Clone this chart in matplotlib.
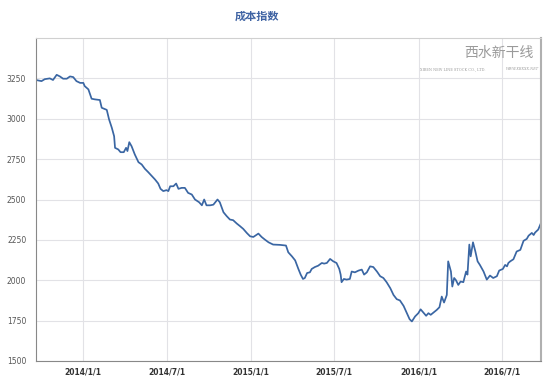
import matplotlib
matplotlib.use("Agg")
import matplotlib.pyplot as plt
import numpy as np
import pandas as pd

plt.rcParams['font.family'] = ['Noto Sans CJK SC', 'DejaVu Sans']

# days counted from 2014-01-01
day_offset = [-103, -91, -84, -73, -66, -58, -51, -44, -36, -29, -22, -15, -7, 0, 3, 11, 18, 25, 36, 40,
              51, 56, 62, 67, 69, 76, 81, 88, 93, 96, 100, 105, 112, 120, 127, 134, 141, 149, 156, 163,
              168, 174, 181, 185, 189, 196, 202, 207, 214, 221, 228, 236, 243, 252, 258, 263, 268, 276, 283, 292,
              297, 305, 312, 319, 326, 334, 341, 348, 356, 363, 370, 381, 388, 395, 403, 413, 428, 441, 446, 454,
              461, 468, 473, 478, 482, 487, 493, 497, 504, 511, 519, 524, 530, 537, 544, 551, 557, 560, 562, 567,
              573, 580, 584, 591, 599, 606, 611, 617, 624, 631, 639, 646, 653, 660, 668, 675, 682, 689, 697, 704,
              710, 715, 722, 729, 734, 740, 746, 751, 756, 762, 769, 775, 780, 785, 791, 794, 800, 803, 807, 811,
              816, 821, 827, 833, 836, 840, 843, 848, 853, 858, 863, 871, 878, 885, 892, 900, 905, 913, 918, 922,
              925, 929, 936, 943, 951, 958, 965, 969, 976, 980, 983, 990, 996]
cost_index = [3240, 3233, 3245, 3250, 3240, 3272, 3262, 3248, 3248, 3262, 3258, 3233, 3222, 3222, 3202, 3182, 3124, 3120, 3116, 3068,
              3055, 2996, 2944, 2892, 2820, 2810, 2793, 2793, 2820, 2800, 2855, 2830, 2779, 2731, 2717, 2690, 2670, 2645, 2624, 2599,
              2566, 2552, 2558, 2552, 2582, 2582, 2599, 2566, 2572, 2572, 2541, 2531, 2500, 2483, 2464, 2500, 2464, 2464, 2468, 2500,
              2483, 2421, 2397, 2376, 2372, 2351, 2335, 2318, 2292, 2272, 2268, 2289, 2268, 2252, 2235, 2221, 2219, 2215, 2173, 2148,
              2123, 2070, 2035, 2008, 2014, 2045, 2049, 2070, 2082, 2090, 2107, 2103, 2107, 2132, 2117, 2107, 2070, 2035, 1988, 2008,
              2004, 2008, 2054, 2049, 2060, 2066, 2035, 2049, 2086, 2082, 2054, 2025, 2014, 1988, 1951, 1909, 1883, 1875, 1841, 1796,
              1759, 1745, 1776, 1796, 1820, 1800, 1780, 1796, 1786, 1800, 1816, 1833, 1899, 1862, 1909, 2117, 2054, 1961, 2014, 2000,
              1971, 1992, 1988, 2054, 2035, 2221, 2148, 2235, 2180, 2117, 2095, 2054, 2004, 2029, 2014, 2025, 2060, 2070, 2095, 2086,
              2107, 2117, 2130, 2178, 2188, 2244, 2256, 2276, 2293, 2280, 2295, 2314, 2355]

tick_dates = ['2014-01-01', '2014-07-01', '2015-01-01', '2015-07-01', '2016-01-01', '2016-07-01']
tick_labels = ['2014/1/1', '2014/7/1', '2015/1/1', '2015/7/1', '2016/1/1', '2016/7/1']
y_ticks = [1500, 1750, 2000, 2250, 2500, 2750, 3000, 3250]

dates = pd.Timestamp('2014-01-01') + pd.to_timedelta(day_offset, unit='D')

fig = plt.figure(figsize=(5.57, 3.83), dpi=100)
ax = fig.add_axes([36 / 557, 22 / 383, 505 / 557, 323 / 383])

ax.plot(dates, cost_index, color='#3a66a3', lw=1.25)

ax.set_xlim(dates[0], dates[-1])
ax.set_ylim(1500, 3500)
ax.set_yticks(y_ticks)
ax.set_xticks(pd.to_datetime(tick_dates))
ax.set_xticklabels(tick_labels, fontsize=5.5, fontweight='bold', color='#333333', family='DejaVu Sans')
ax.tick_params(axis='y', labelsize=5.5, colors='#555555', length=0, pad=7)
ax.tick_params(axis='x', length=0, pad=5)
for lab in ax.get_yticklabels():
    lab.set_family('DejaVu Sans')

ax.grid(True, color='#e2e2e6', lw=0.8)
ax.set_axisbelow(True)

ax.spines['left'].set_color('#888888')
ax.spines['bottom'].set_color('#888888')
ax.spines['top'].set_color('#d0d0d0')
ax.spines['right'].set_color('#b0b0b0')
ax.spines['right'].set_linewidth(1.5)

fig.text(257 / 557, 1 - 16 / 383, '成本指数', ha='center', va='center', fontsize=8,
         fontweight='bold', color='#3f63a3')

# watermark
ax.text(0.985, 0.955, '西水新干线', transform=ax.transAxes, ha='right', va='center',
        fontsize=10, color='#9a9a9a')
ax.text(0.76, 0.905, 'XIBEN NEW LINE STOCK CO., LTD.', transform=ax.transAxes, ha='left', va='center',
        fontsize=2.5, color='#9a9a9a', family='DejaVu Serif')
ax.text(0.995, 0.905, 'WWW.XBXXX.NET', transform=ax.transAxes, ha='right', va='center',
        fontsize=2.5, color='#9a9a9a', family='DejaVu Serif', style='italic')

fig.savefig('out.png', dpi=100)
